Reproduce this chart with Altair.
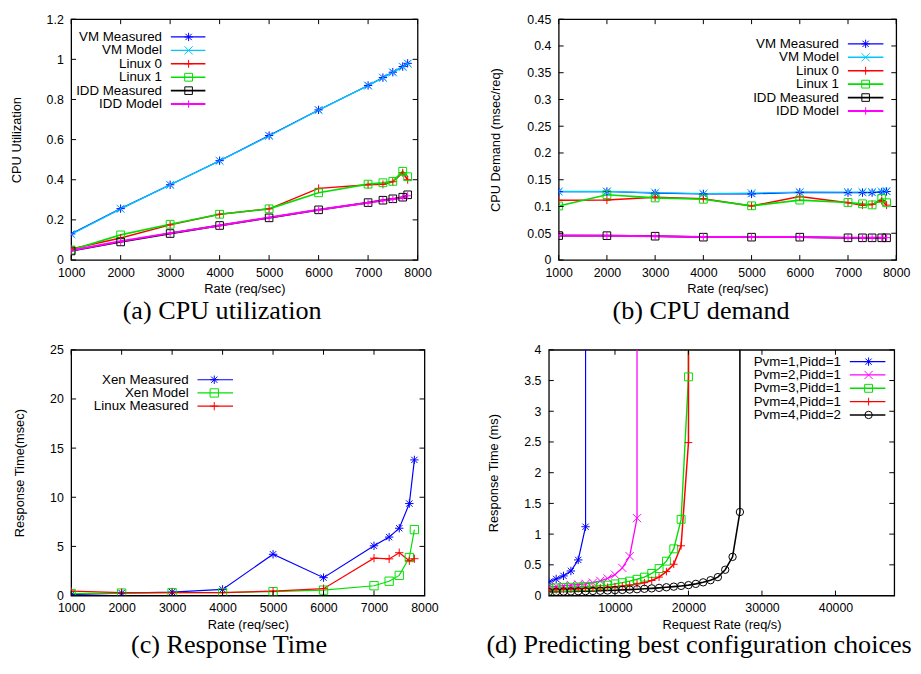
import altair as alt
import pandas as pd

SANS = "Liberation Sans"
SERIF = "Liberation Serif"

# ---------------- data ----------------
RATES = [1000, 2000, 3000, 4000, 5000, 6000, 7000, 7300, 7500, 7700, 7800]

# (a) CPU utilization
A_SERIES = ["VM Measured", "VM Model", "Linux 0", "Linux 1", "IDD Measured", "IDD Model"]
A_VM_MEASURED = [0.130, 0.256, 0.375, 0.495, 0.620, 0.748, 0.870, 0.909, 0.936, 0.964, 0.980]
A_VM_MODEL = [0.128, 0.255, 0.374, 0.494, 0.618, 0.747, 0.869, 0.908, 0.935, 0.962, 0.978]
A_LINUX0 = [0.055, 0.110, 0.175, 0.228, 0.255, 0.357, 0.375, 0.377, 0.390, 0.435, 0.400]
A_LINUX1 = [0.050, 0.125, 0.178, 0.228, 0.255, 0.335, 0.378, 0.385, 0.392, 0.442, 0.415]
A_IDD_MEASURED = [0.045, 0.090, 0.132, 0.172, 0.210, 0.250, 0.286, 0.298, 0.305, 0.313, 0.325]
A_IDD_MODEL = [0.047, 0.093, 0.134, 0.172, 0.212, 0.250, 0.285, 0.297, 0.303, 0.310, 0.320]

# (b) CPU demand
B_VM_MEASURED = [0.1277, 0.128, 0.125, 0.1235, 0.1235, 0.1265, 0.126, 0.126, 0.126, 0.127, 0.128]
B_VM_MODEL = [0.128, 0.128, 0.126, 0.124, 0.125, 0.127, 0.127, 0.127, 0.127, 0.128, 0.129]
B_LINUX0 = [0.1116, 0.112, 0.1175, 0.1145, 0.101, 0.1186, 0.107, 0.1025, 0.104, 0.111, 0.1025]
B_LINUX1 = [0.101, 0.122, 0.116, 0.1135, 0.1013, 0.112, 0.1075, 0.105, 0.103, 0.115, 0.107]
B_IDD_MEASURED = [0.0457, 0.0455, 0.0445, 0.0427, 0.0427, 0.0427, 0.0415, 0.0415, 0.0415, 0.0415, 0.0415]
B_IDD_MODEL = [0.046, 0.0455, 0.0445, 0.043, 0.043, 0.0428, 0.0418, 0.0416, 0.0416, 0.0416, 0.0418]

# (c) Response time
C_SERIES = ["Xen Measured", "Xen Model", "Linux Measured"]
C_XEN_MEASURED = [0.10, 0.25, 0.35, 0.63, 4.20, 1.82, 5.06, 5.95, 6.85, 9.36, 13.8]
C_XEN_MODEL = [0.20, 0.25, 0.30, 0.30, 0.40, 0.55, 1.00, 1.46, 2.05, 3.87, 6.71]
C_LINUX_MEASURED = [0.45, 0.30, 0.30, 0.30, 0.45, 0.70, 3.80, 3.73, 4.36, 3.54, 3.75]

# (d) Predicting best configuration choices
D_SERIES = ["Pvm=1,Pidd=1", "Pvm=2,Pidd=1", "Pvm=3,Pidd=1", "Pvm=4,Pidd=1", "Pvm=4,Pidd=2"]
D_RATES = [1000, 2000, 3000, 4000, 5000, 6000, 7000, 8000, 9000, 10000,
           11000, 12000, 13000, 14000, 15000, 16000, 17000, 18000, 19000, 20000,
           21000, 22000, 23000, 24000, 25000, 26000, 27000]
D_P1 = [0.22, 0.27, 0.32, 0.40, 0.58, 1.12]
D_P2 = [0.14, 0.15, 0.16, 0.17, 0.18, 0.19, 0.21, 0.24, 0.28, 0.34, 0.45, 0.64, 1.26]
D_P3 = [0.12, 0.125, 0.13, 0.135, 0.14, 0.145, 0.15, 0.16, 0.17, 0.19,
        0.21, 0.235, 0.265, 0.30, 0.36, 0.44, 0.56, 0.76, 1.24, 3.56]
D_P4 = [0.09, 0.095, 0.10, 0.105, 0.11, 0.115, 0.12, 0.125, 0.135, 0.145,
        0.155, 0.17, 0.19, 0.21, 0.245, 0.30, 0.39, 0.51, 0.81, 2.49]
D_P5 = [0.06, 0.062, 0.065, 0.067, 0.07, 0.072, 0.075, 0.078, 0.082, 0.087,
        0.092, 0.097, 0.103, 0.11, 0.117, 0.125, 0.135, 0.145, 0.157, 0.17,
        0.19, 0.215, 0.25, 0.30, 0.42, 0.63, 1.36]
D_SATURATED = 100.0  # response time beyond saturation (off the chart)

# ---------------- styles ----------------
STAR = "M-1,0L1,0M0,-1L0,1M-0.75,-0.75L0.75,0.75M-0.75,0.75L0.75,-0.75"
CROSS = "M-1,-1L1,1M-1,1L1,-1"
PLUS = "M-1,0L1,0M0,-1L0,1"
SQUARE = "M-1,-1L1,-1L1,1L-1,1Z"
CIRCLE = "circle"

BLUE = "#0000ff"
CYAN = "#00c8ff"
RED = "#ff0000"
GREEN = "#00e000"
BLACK = "#000000"
MAGENTA = "#ff00ff"


def build_df(xs, ys_list, names, extra=None):
    rows = []
    for name, ys in zip(names, ys_list):
        i = 0
        for x, y in zip(xs, ys):
            rows.append({"series": name, "x": x, "y": y, "idx": i})
            i += 1
        if extra is not None:
            rows.append({"series": name, "x": xs[len(ys) - 1], "y": extra, "idx": i})
    return pd.DataFrame(rows)


def panel(series, colors, shapes, sizes, widths, line_df, point_df,
          xdom, ydom, xticks, yticks, W, H, xtitle, ytitle, yext,
          leg, caption, cap_dx, cap_off):
    cs = alt.Scale(domain=series, range=colors)
    ss = alt.Scale(domain=series, range=shapes)
    zs = alt.Scale(domain=series, range=sizes)
    ws = alt.Scale(domain=series, range=widths)
    xs = alt.Scale(domain=xdom, nice=False, zero=False)
    ys = alt.Scale(domain=ydom, nice=False, zero=False)

    common = dict(ticks=False, tickSize=0, domain=False, grid=False,
                  labelFont=SANS, labelFontSize=12.5, labelColor="black",
                  titleFont=SANS, titleFontSize=13, titleFontWeight="normal",
                  titleColor="black", labelFlush=False, labelOverlap=False)
    xaxis = alt.Axis(values=xticks, title=xtitle, labelPadding=6.5, format="d",
                     minExtent=19, maxExtent=19, titlePadding=4, **common)
    yaxis = alt.Axis(values=yticks, title=ytitle, labelPadding=8, format="~g",
                     minExtent=yext, maxExtent=yext, titlePadding=0, **common)

    color = alt.Color("series:N", scale=cs, legend=None)
    shape = alt.Shape("series:N", scale=ss, legend=None)
    size = alt.Size("series:N", scale=zs, legend=None)
    sw = alt.StrokeWidth("series:N", scale=ws, legend=None)

    X = lambda f: alt.X(f, scale=xs, axis=xaxis, title=xtitle)
    Y = lambda f: alt.Y(f, scale=ys, axis=yaxis, title=ytitle)

    lines = alt.Chart(line_df).mark_line(clip=True).encode(
        x=X("x:Q"), y=Y("y:Q"),
        color=color, strokeWidth=sw, order=alt.Order("idx:Q"))
    points = alt.Chart(point_df).mark_point(filled=False, clip=True, strokeWidth=1, opacity=1).encode(
        x=X("x:Q"), y=Y("y:Q"),
        color=color, shape=shape, size=size)

    xt = pd.DataFrame({"t": xticks})
    yt = pd.DataFrame({"t": yticks})
    tk = dict(color="black", strokeWidth=1)
    tb = alt.Chart(xt).mark_rule(**tk).encode(
        x=X("t:Q"), y=alt.value(H), y2=alt.value(H - 5))
    tt = alt.Chart(xt).mark_rule(**tk).encode(
        x=X("t:Q"), y=alt.value(0), y2=alt.value(5))
    tl = alt.Chart(yt).mark_rule(**tk).encode(
        y=Y("t:Q"), x=alt.value(0), x2=alt.value(5))
    tr = alt.Chart(yt).mark_rule(**tk).encode(
        y=Y("t:Q"), x=alt.value(W - 5), x2=alt.value(W))

    y0, dy, tx, lx1, lx2, mx = leg
    ldf = pd.DataFrame({"series": series, "row": list(range(len(series)))})
    lbase = alt.Chart(ldf).transform_calculate(py=f"{y0} + datum.row * {dy}")
    ly = alt.Y("py:Q", scale=None)
    ltext = lbase.mark_text(align="right", baseline="middle", font=SANS,
                            fontSize=13.5, color="black").encode(
        x=alt.value(tx), y=ly, text="series:N")
    lline = lbase.mark_rule().encode(
        x=alt.value(lx1), x2=alt.value(lx2), y=ly, color=color, strokeWidth=sw)
    lmark = lbase.mark_point(filled=False, strokeWidth=1, opacity=1).encode(
        x=alt.value(mx), y=ly, color=color, shape=shape, size=size)

    return alt.layer(lines, points, tb, tt, tl, tr, ltext, lline, lmark).properties(
        width=W, height=H,
        title=alt.TitleParams(text=caption, orient="bottom", anchor="middle",
                              frame="bounds", font=SERIF, fontSize=26.5,
                              fontWeight="normal", color="black", offset=cap_off,
                              dx=cap_dx))


XT8 = [1000, 2000, 3000, 4000, 5000, 6000, 7000, 8000]
A_COLORS = [BLUE, CYAN, RED, GREEN, BLACK, MAGENTA]
A_SHAPES = [STAR, CROSS, PLUS, SQUARE, SQUARE, PLUS]
A_SIZES = [72, 56, 72, 70, 70, 72]
A_WIDTHS = [1.2, 2, 1.2, 1.2, 1.2, 2]

# (a)
a_lines = build_df(RATES, [A_VM_MEASURED, A_VM_MODEL, A_LINUX0, A_LINUX1, A_IDD_MEASURED, A_IDD_MODEL], A_SERIES)
pa = panel(A_SERIES, A_COLORS, A_SHAPES, A_SIZES, A_WIDTHS, a_lines, a_lines,
           [1000, 8000], [0, 1.2], XT8, [0, 0.2, 0.4, 0.6, 0.8, 1, 1.2],
           351, 244, "Rate (req/sec)", "CPU Utilization", 48,
           (18, 13.6, 92, 101, 136, 119), "(a) CPU utilization", 1, 3)

# (b)
b_lines = build_df(RATES, [B_VM_MEASURED, B_VM_MODEL, B_LINUX0, B_LINUX1, B_IDD_MEASURED, B_IDD_MODEL], A_SERIES)
pb = panel(A_SERIES, A_COLORS, A_SHAPES, A_SIZES, A_WIDTHS, b_lines, b_lines,
           [1000, 8000], [0, 0.45], XT8,
           [0, 0.05, 0.1, 0.15, 0.2, 0.25, 0.3, 0.35, 0.4, 0.45],
           342, 244, "Rate (req/sec)", "CPU Demand (msec/req)", 56.5,
           (25, 13.6, 284, 293, 329, 311), "(b) CPU demand", 1, 3)

# (c)
c_lines = build_df(RATES, [C_XEN_MEASURED, C_XEN_MODEL, C_LINUX_MEASURED], C_SERIES)
pc = panel(C_SERIES, [BLUE, GREEN, RED], [STAR, SQUARE, PLUS], [72, 70, 72],
           [1.2, 1.2, 1.2], c_lines, c_lines,
           [1000, 8000], [0, 25], XT8, [0, 5, 10, 15, 20, 25],
           358, 249, "Rate (req/sec)", "Response Time(msec)", 45,
           (30.3, 13.4, 119, 128, 164, 145), "(c) Response Time", 3, 1)

# (d)
d_ys = [D_P1, D_P2, D_P3, D_P4, D_P5]
d_lines = build_df(D_RATES, d_ys, D_SERIES, extra=D_SATURATED)
d_points = build_df(D_RATES, d_ys, D_SERIES)
pd_ = panel(D_SERIES, [BLUE, MAGENTA, GREEN, RED, BLACK],
            [STAR, CROSS, SQUARE, PLUS, CIRCLE], [72, 56, 70, 72, 64],
            [1.2, 1.6, 1.2, 1.6, 1.2], d_lines, d_points,
            [1000, 48000], [0, 4], [10000, 20000, 30000, 40000],
            [0, 0.5, 1, 1.5, 2, 2.5, 3, 3.5, 4],
            350, 249, "Request Rate (req/s)", "Response Time (ms)", 49,
            (12, 13.5, 296, 305, 341, 324), "(d) Predicting best configuration choices", 8, 1)

IND = dict(color="independent", shape="independent", size="independent",
           strokeWidth="independent")
row1 = alt.hconcat(pa, pb, spacing=57).resolve_scale(**IND)
row2 = alt.hconcat(pc, pd_, spacing=46).resolve_scale(**IND)
chart = alt.vconcat(row1, row2, spacing=17).resolve_scale(**IND).properties(
    padding={"left": 2, "top": 0, "right": 0, "bottom": 0}
).configure(font=SANS).configure_view(stroke="black", strokeWidth=1.3)

chart.save("out.html", embed_options={"renderer": "svg", "actions": False})
